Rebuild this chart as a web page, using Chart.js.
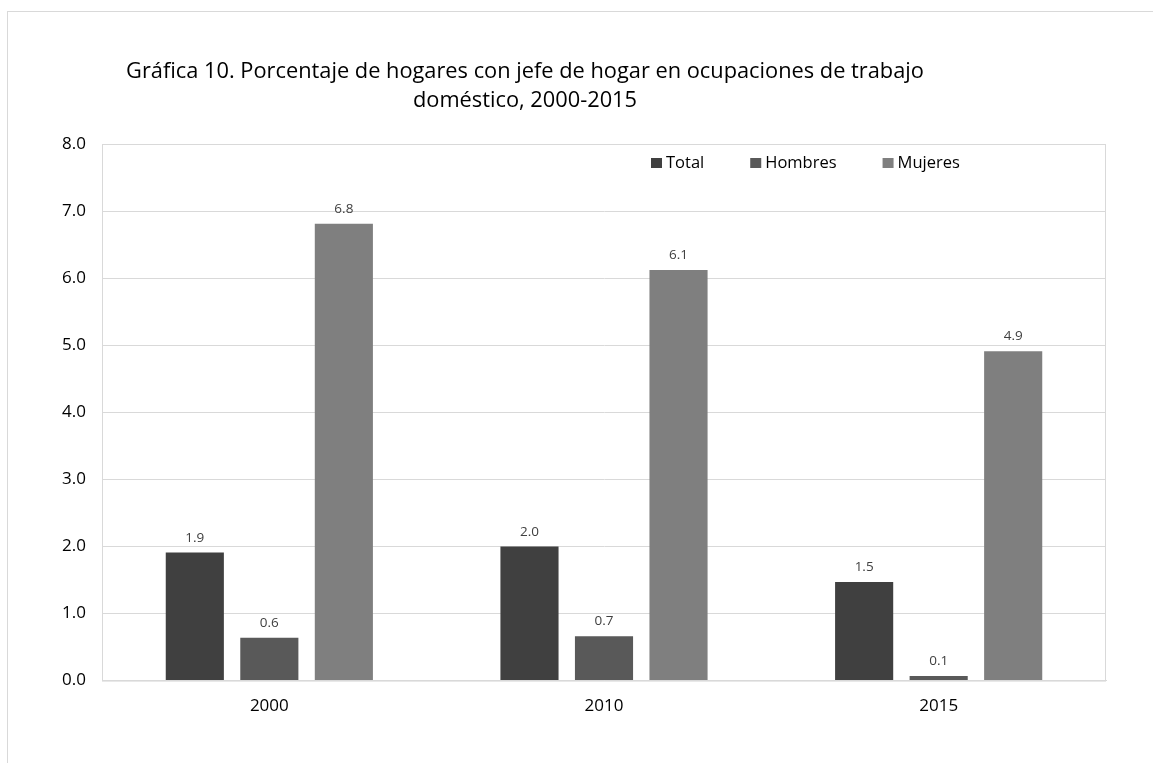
<!DOCTYPE html>
<html>
<head>
<meta charset="utf-8">
<script src="https://cdn.jsdelivr.net/npm/chart.js@4"></script>
<style>
  html, body { margin: 0; padding: 0; background: #fff; }
  #frame {
    position: absolute; left: 7px; top: 11px; width: 1150px; height: 760px;
    border-left: 1px solid #d9d9d9; border-top: 1px solid #d9d9d9;
  }
  #wrap { position: absolute; left: 0; top: 0; width: 1153px; height: 763px; }
</style>
</head>
<body>
<div id="frame"></div>
<div id="wrap"><canvas id="chart" width="1153" height="763"></canvas></div>
<script>
const years = ['2000', '2010', '2015'];
const total = [1.91, 2.0, 1.47];
const hombres = [0.64, 0.66, 0.07];
const mujeres = [6.81, 6.12, 4.91];
const yTicks = [0, 1, 2, 3, 4, 5, 6, 7, 8];
const titleLines = [
  'Gráfica 10. Porcentaje de hogares con jefe de hogar en ocupaciones de trabajo',
  'doméstico, 2000-2015'
];

const FONT = '"Open Sans", sans-serif';

// title, legend inside the plot area, plot frame and value labels
const decor = {
  id: 'decor',
  afterDatasetsDraw(chart) {
    const { ctx, chartArea } = chart;
    ctx.save();

    // plot area frame
    ctx.strokeStyle = '#d9d9d9';
    ctx.lineWidth = 1;
    ctx.strokeRect(chartArea.left + 0.5, chartArea.top + 0.5, chartArea.width - 1, chartArea.height);

    // value labels
    ctx.font = '13.5px ' + FONT;
    ctx.fillStyle = '#404040';
    ctx.textAlign = 'center';
    ctx.textBaseline = 'bottom';
    chart.data.datasets.forEach((ds, i) => {
      chart.getDatasetMeta(i).data.forEach((bar, j) => {
        ctx.fillText(ds.data[j].toFixed(1), bar.x, bar.y - 8);
      });
    });

    // title
    ctx.font = '21.8px ' + FONT;
    ctx.fillStyle = '#000';
    ctx.textBaseline = 'middle';
    titleLines.forEach((line, i) => ctx.fillText(line, 525, 72 + i * 29));

    // legend
    ctx.font = '16.5px ' + FONT;
    ctx.textAlign = 'left';
    let x = 651;
    const y = 163;
    chart.data.datasets.forEach(ds => {
      ctx.fillStyle = ds.backgroundColor;
      ctx.fillRect(x, y - 5, 11, 10);
      ctx.fillStyle = '#000';
      ctx.fillText(ds.label, x + 15, y);
      x += 15 + ctx.measureText(ds.label).width + 46;
    });
    ctx.restore();
  }
};

new Chart(document.getElementById('chart').getContext('2d'), {
  type: 'bar',
  data: {
    labels: years,
    datasets: [
      { label: 'Total', data: total, backgroundColor: '#404040' },
      { label: 'Hombres', data: hombres, backgroundColor: '#595959' },
      { label: 'Mujeres', data: mujeres, backgroundColor: '#7f7f7f' }
    ]
  },
  options: {
    responsive: false,
    animation: false,
    layout: { padding: { left: 8, right: 47, top: 144, bottom: 32 } },
    datasets: { bar: { barPercentage: 0.78, categoryPercentage: 0.668 } },
    plugins: { legend: { display: false }, tooltip: { enabled: false } },
    scales: {
      x: {
        grid: { display: false, drawTicks: false },
        border: { color: '#d9d9d9' },
        ticks: { color: '#000', font: { family: FONT, size: 17 }, padding: 15 }
      },
      y: {
        min: 0, max: 8,
        afterFit(s) { s.width = 94; },
        afterBuildTicks(s) { s.ticks = yTicks.map(v => ({ value: v })); },
        grid: { color: '#d9d9d9', drawTicks: false },
        border: { color: '#d9d9d9' },
        ticks: {
          color: '#000', font: { family: FONT, size: 17 }, padding: 16,
          callback: v => v.toFixed(1)
        }
      }
    }
  },
  plugins: [decor]
});
</script>
</body>
</html>
